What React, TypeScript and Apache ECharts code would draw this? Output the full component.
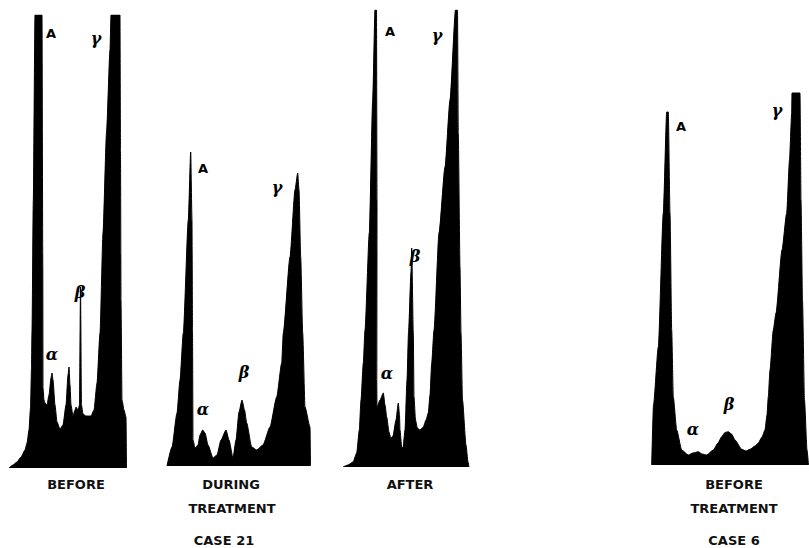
import React, { useEffect, useRef } from "react";
import * as echarts from "echarts";

// Densitometer tracings: [position along strip, density] (local units per panel)
const case21Before: number[][] = [
  [1, 0], [5, 3], [9, 6], [13, 11], [17, 18], [19, 25], [21, 38], [22.5, 60], [23.5, 100], [24, 138],
  [25.3, 268], [27, 453], [34, 453], [34.8, 200], [35, 80], [36, 68], [37, 65], [39, 63], [41, 73],
  [43, 90], [44, 95], [45, 88], [47, 63], [49, 46], [52, 39], [55, 43], [58, 63], [60, 93], [61, 101],
  [62, 83], [63, 63], [65, 52], [67, 58], [68, 61], [70, 58], [71.5, 63], [72.5, 181], [73.5, 63],
  [75, 54], [78, 52], [83, 52], [86, 58], [89, 85], [92, 135], [95, 235], [98.5, 335], [102, 418],
  [103, 453], [112, 453], [112.5, 318], [113, 168], [114, 68], [116, 58], [118, 51], [118.5, 0]
];

const case21During: number[][] = [
  [0, 0], [5, 19], [10, 53], [13, 86], [16.3, 133], [21.3, 246], [23.7, 314], [25, 246], [25.5, 136],
  [26, 26], [28, 18], [31, 21], [33, 31], [35.7, 36], [38, 33], [41, 21], [46, 8], [50, 11], [54, 26],
  [59, 36], [62, 26], [66, 8], [69, 26], [72, 54], [75, 66], [77.5, 56], [79.7, 43], [84.7, 19],
  [89.7, 16], [96, 21], [103, 39], [109.7, 69], [114.7, 103], [116.3, 133], [123, 209], [128, 276],
  [130.7, 293], [132, 276], [133.7, 209], [135.7, 133], [138, 59], [143, 39], [143.5, 0]
];

const case21After: number[][] = [
  [0, 0], [5, 2], [10, 5], [13.7, 14], [16.3, 37], [18, 67], [20.3, 104], [22, 137], [26.3, 234],
  [29.7, 367], [32, 457], [33.5, 457], [34, 267], [33.8, 87], [34, 60], [37, 67], [40.3, 74], [42, 62],
  [43.7, 50], [46, 35], [47.7, 29], [50, 31], [53, 47], [55.3, 64], [56.5, 52], [57, 37], [58.7, 20],
  [60, 19], [62, 37], [64, 87], [65.5, 134], [68, 195], [68.7, 219], [70.3, 134], [71, 70], [72.5, 47],
  [74.3, 39], [77, 37], [80.3, 40], [83, 47], [85.3, 54], [87, 72], [88.7, 104], [91, 137], [96, 234],
  [102, 300], [107, 367], [112.5, 457], [114.5, 457], [115.3, 334], [117, 200], [118, 134],
  [119.5, 67], [123, 22], [125, 5], [126, 0]
];

const case6Before: number[][] = [
  [0.7, 0], [2.5, 60], [7.3, 118], [12.3, 252], [15.7, 353], [17.3, 353], [19, 252], [20.7, 135],
  [22.3, 68], [25.7, 35], [30.7, 15], [37.3, 10], [42, 12], [47.3, 13.3], [51, 11], [55.7, 10],
  [62.3, 15], [67, 22], [70.7, 28.3], [74, 32.5], [77.3, 33.3], [80.5, 31], [84, 25], [90.7, 15.7],
  [95, 14], [99, 15.7], [104, 19], [107.3, 22], [111, 28], [114, 35], [116, 50], [117.3, 68.3],
  [119, 95], [122.3, 135], [125, 152], [131, 215], [135.7, 252], [138.5, 305], [140.7, 352],
  [141, 372], [149, 372], [150, 265], [151.5, 165], [153.5, 65], [156, 15], [157.5, 0]
];

const panelTraces = [case21Before, case21During, case21After, case6Before];
const peakLabels = ["A", "γ", "β", "α"];
const stageLabels = ["BEFORE", "DURING", "TREATMENT", "AFTER", "BEFORE", "TREATMENT"];
const caseLabels = ["CASE 21", "CASE 6"];

// panel frames in pixels: left, top, width, height
const frames = [
  [8, 15, 120, 453],
  [167, 150, 144, 316],
  [343, 10, 128, 457],
  [651, 90, 158, 375]
];

// label positions per panel [A, γ, β, α]
const labelPos = [
  [[51, 33], [96, 38], [80, 292], [52, 354]],
  [[203, 168], [277, 187], [244, 372], [203, 409]],
  [[390, 31], [437, 35], [415, 256], [387, 373]],
  [[681, 126], [777, 110], [729, 404], [693, 429]]
];

export default function App() {
  const ref = useRef<HTMLDivElement>(null);
  useEffect(() => {
    if (!ref.current) return;
    const chart = echarts.init(ref.current, undefined, { renderer: "svg" });

    const grids = frames.map((f) => ({ left: f[0], top: f[1], width: f[2], height: f[3], containLabel: false }));
    const xAxes = frames.map((f, i) => ({ type: "value", gridIndex: i, min: 0, max: f[2], show: false }));
    const yAxes = frames.map((f, i) => ({ type: "value", gridIndex: i, min: 0, max: f[3], show: false }));
    const series = panelTraces.map((d, i) => ({
      type: "line",
      xAxisIndex: i,
      yAxisIndex: i,
      data: d,
      symbol: "none",
      smooth: 0.2,
      smoothMonotone: "x",
      lineStyle: { color: "#000", width: 1 },
      areaStyle: { color: "#000", opacity: 1 },
      clip: true
    }));

    const graphics: any[] = [];
    labelPos.forEach((panel) => {
      panel.forEach((p, li) => {
        const isA = li === 0;
        graphics.push({
          type: "text",
          x: p[0],
          y: p[1],
          style: {
            text: peakLabels[li],
            fill: "#000",
            fontFamily: isA ? "DejaVu Sans" : "DejaVu Serif",
            fontWeight: "bold",
            fontStyle: isA ? "normal" : "italic",
            fontSize: isA ? 13 : 16,
            align: "center",
            verticalAlign: "middle"
          }
        });
      });
    });
    const bottom: [string, number, number][] = [
      [stageLabels[0], 76, 484],
      [stageLabels[1], 231, 484],
      [stageLabels[2], 232, 508],
      [caseLabels[0], 224, 540],
      [stageLabels[3], 410, 484],
      [stageLabels[4], 734, 484],
      [stageLabels[5], 734, 508],
      [caseLabels[1], 734, 540]
    ];
    bottom.forEach((b) => {
      graphics.push({
        type: "text",
        x: b[1],
        y: b[2],
        style: {
          text: b[0],
          fill: "#111",
          fontFamily: "DejaVu Sans",
          fontWeight: "bold",
          fontSize: 13,
          align: "center",
          verticalAlign: "middle"
        }
      });
    });

    chart.setOption({
      animation: false,
      backgroundColor: "#fff",
      grid: grids,
      xAxis: xAxes,
      yAxis: yAxes,
      series,
      graphic: graphics
    } as any);
    return () => chart.dispose();
  }, []);
  return <div ref={ref} style={{ position: "absolute", left: 0, top: 0, width: 809, height: 548 }} />;
}
